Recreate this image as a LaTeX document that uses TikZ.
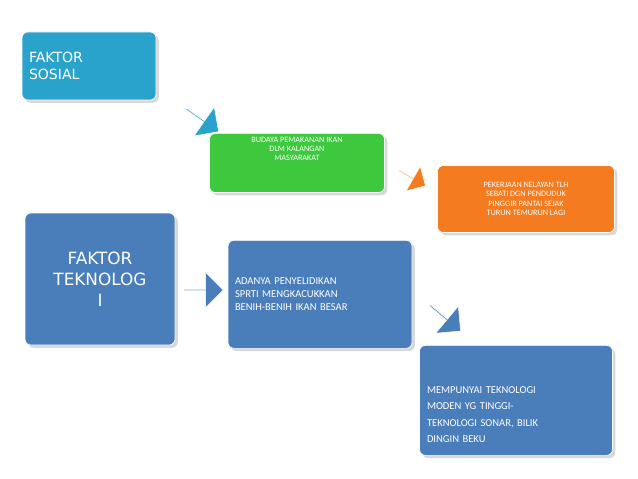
\documentclass[tikz,border=0pt]{standalone}
\usepackage{fontspec}
\setmainfont{Carlito}
\newfontfamily\comic{DejaVu Sans}
\usetikzlibrary{shapes.arrows}
\definecolor{cy}{HTML}{2AA3CC}
\definecolor{gr}{HTML}{3DC83D}
\definecolor{org}{HTML}{F47B20}
\definecolor{bl}{HTML}{4A7EBB}
\tikzset{
 box/.style={rounded corners=5pt, draw=white, line width=0.6pt, minimum width=#1, inner sep=3pt, text=white, drop shadow={opacity=0.3}},
 arr/.style={single arrow, single arrow head extend=5pt, minimum height=34pt, minimum width=30pt, inner sep=0pt, draw=white}
}
\usetikzlibrary{shadows}
\begin{document}
\begin{tikzpicture}[x=0.03cm,y=-0.03cm]
\useasboundingbox (0,0) rectangle (638,479);
\fill[white] (0,0) rectangle (638,479);
\node[box=134*0.03cm, fill=cy, minimum height=68*0.03cm, align=left, text width=120*0.03cm, font=\comic\large] (sos) at (89,66) {FAKTOR\\SOSIAL};
\node[box=175*0.03cm, fill=gr, minimum height=49*0.03cm, align=center, font=\scriptsize, anchor=north, text depth=24pt] (bud) at (297,133) {BUDAYA PEMAKANAN IKAN\\DLM KALANGAN\\MASYARAKAT};
\node[box=177*0.03cm, fill=org, minimum height=67*0.03cm, align=center, font=\scriptsize] (pek) at (526,199) {PEKERJAAN NELAYAN TLH\\SEBATI DGN PENDUDUK\\PINGGIR PANTAI SEJAK\\TURUN TEMURUN LAGI};
\node[box=150*0.03cm, fill=bl, minimum height=132*0.03cm, align=center, font=\comic\Large] (tek) at (100,279) {FAKTOR\\TEKNOLOG\\I};
\node[box=184*0.03cm, fill=bl, minimum height=108*0.03cm, align=left, font=\small, text width=170*0.03cm, anchor=north] (ada) at (320,240) {ADANYA PENYELIDIKAN\\SPRTI MENGKACUKKAN\\BENIH-BENIH IKAN BESAR\\[30pt]};
\node[box=193*0.03cm, fill=bl, minimum height=110*0.03cm, align=left, font=\small, text width=178*0.03cm, anchor=north, text depth=18pt] (mem) at (516,345) {MEMPUNYAI TEKNOLOGI\\[3pt]MODEN YG TINGGI-\\[3pt]TEKNOLOGI SONAR, BILIK\\[3pt]DINGIN BEKU};
\node[arr, fill=cy, rotate=-35] (a1) at (202,120) {};
\node[arr, fill=org, rotate=-30, minimum height=26pt, minimum width=24pt] (a2) at (412,178) {};
\node[arr, fill=bl, rotate=0] (a3) at (203,290) {};
\node[arr, fill=bl, rotate=-40] (a4) at (445,318) {};
\end{tikzpicture}
\end{document}
